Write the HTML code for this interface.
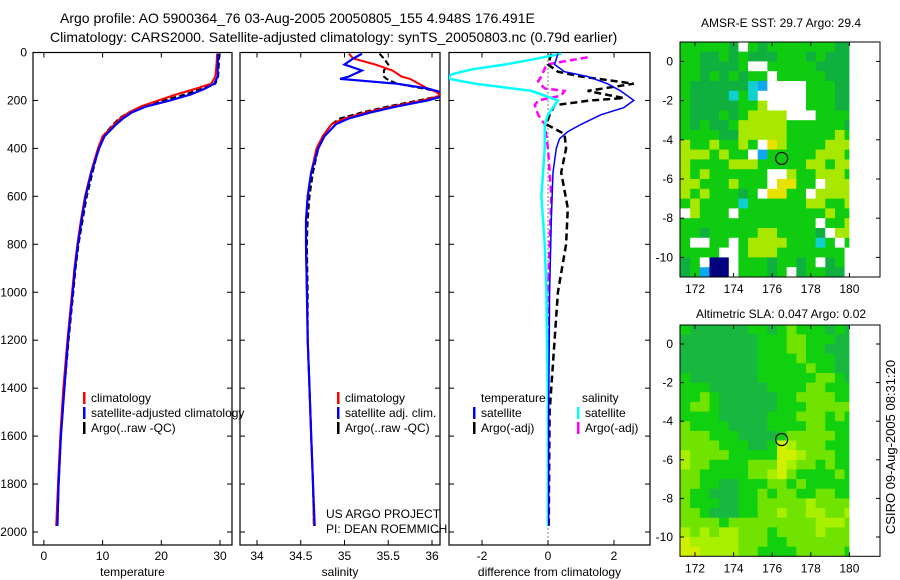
<!DOCTYPE html>
<html><head><meta charset="utf-8"><style>
body{margin:0;background:#fff;}
svg{display:block;font-family:"Liberation Sans",sans-serif;}
</style></head><body>
<svg id="c" width="900" height="580" viewBox="0 0 900 580">
<text x="60" y="23" font-size="14">Argo profile: AO 5900364_76 03-Aug-2005 20050805_155 4.948S 176.491E</text>
<text x="50" y="42" font-size="14">Climatology: CARS2000. Satellite-adjusted climatology: synTS_20050803.nc (0.79d earlier)</text>
<text x="781" y="27" font-size="12" text-anchor="middle">AMSR-E SST: 29.7 Argo: 29.4</text>
<text x="781" y="318" font-size="12" text-anchor="middle">Altimetric SLA: 0.047 Argo: 0.02</text>
<text x="0" y="0" font-size="13" text-anchor="middle" transform="translate(895,447) rotate(-90)">CSIRO 09-Aug-2005 08:31:20</text>
</svg>
<script>
// ---- profile data ----
const tDepth=[5,50,100,130,150,175,200,225,250,275,300,350,400,500,600,700,800,900,1000,1200,1400,1600,1800,1975];
const tClim=[29.5,29.4,29.2,28.5,26,22.5,19.5,16.5,14.5,13,12,10,9.2,8,7,6.3,5.7,5.2,4.8,4,3.3,2.8,2.4,2.1];
const tSat=[29.7,29.6,29.6,29.0,27.5,25,21.5,17.5,15,13.5,12.3,10.3,9.4,8.1,7.1,6.4,5.8,5.3,4.9,4.1,3.5,2.9,2.5,2.3];
const tArgo=[29.9,29.8,29.7,29.2,27,24,20.5,17,14.5,12.8,11.8,10,9.3,8.3,7.3,6.6,5.9,5.4,5.0,4.2,3.5,2.9,2.5,2.3];
const sDepth=[5,25,50,75,100,110,130,150,165,180,200,225,250,275,300,350,400,500,600,700,800,1000,1200,1400,1600,1800,1975];
const sClim=[35.05,35.1,35.35,35.55,35.65,35.75,35.85,35.95,36.05,36.1,35.9,35.55,35.25,35.0,34.85,34.75,34.68,34.62,34.58,34.56,34.56,34.57,34.58,34.6,34.62,34.64,34.65];
const sSat=[35.2,35.1,35.0,35.2,35.05,34.95,35.6,35.95,36.1,36.15,35.95,35.6,35.3,35.05,34.9,34.77,34.7,34.62,34.58,34.56,34.56,34.57,34.58,34.6,34.62,34.64,34.66];
const sArgo=[35.4,35.45,35.5,35.45,35.45,35.48,35.6,35.9,36.1,36.1,35.85,35.5,35.2,34.95,34.85,34.75,34.7,34.64,34.6,34.58,34.57,34.58,34.58,34.6,34.62,34.64,34.65];
const dtSatDepth=[5,50,80,100,130,160,200,230,260,300,330,360,400,500,700,1000,1500,1975];
const dtSat=[0.3,0.2,0.5,1.2,1.8,2.2,2.6,2.3,1.6,1.0,0.6,0.35,0.25,0.15,0.1,0.05,0.02,0.02];
const dtArgoDepth=[5,50,80,100,130,160,190,200,220,260,300,340,400,500,650,800,1000,1500,1975];
const dtArgo=[0.1,0.0,0.3,1.0,2.6,1.2,2.3,1.3,0.2,0.05,-0.05,0.5,0.55,0.4,0.6,0.55,0.3,0.05,0.02];
const dsSatDepth=[5,30,50,70,90,100,110,130,160,200,220,260,300,400,600,800,1000,1500,1975];
const dsSat=[0.4,-0.5,-1.3,-2.3,-2.9,-3.0,-3.0,-2.2,-0.5,0.3,0.2,0.0,-0.1,-0.1,-0.2,-0.1,-0.05,0,0];
const dsArgoDepth=[20,50,100,120,150,160,180,200,220,260,300,350,400,600,800,1000,1975];
const dsArgo=[1.2,-0.05,-0.2,-0.3,-0.1,0.5,0.4,-0.3,-0.4,-0.3,-0.1,-0.05,0,0.1,0.05,0.0,0];
const depthTicks=[0,200,400,600,800,1000,1200,1400,1600,1800,2000];
const tTicks=[0,10,20,30];
const sTicks=[34,34.5,35,35.5,36];
const dTicks=[-2,0,2];
// ---- map data ----
const sstRows=["gggggdwgdgggggggdd","ggddgdgdddgggdgddd","ggddddgwwgggggdddd","ggdgdgdggwgggggddd","gddddddcbwwwwgggdd","gddddcgcwwwwwgggdd","gdddddgglwwwwgggdd","gdddgdgllllwwwgggg","gdgddglllllggggggd","ggggddlllllggggglg","lgglgglgwylgggglll","lllglggwbggggglllg","lgggglllgggggllgllg","lglggggggwwlgglllg","llggglgggwyyggwlll","lglgggdgwyyggwllll","glggggcggggggllggl","wlgggwggggggggglgg","ggggggggggggggwggl","ggdgggggllggggdwll","gwwggwgllllgggcgwg","ggggwwglllgggggggw","dgwnnwgggdggdgwdgw","dgbnnwgggdgwdggddw"];
const slaRows=["gddddddggdgmgggdgd","ddddddddgggmmgggdd","ddddddddgggmmggddd","ddddddddggggmgggdd","ddddddddgggggmggdd","gdddddddggggggmmgd","gggddddddggggmmggg","ggmgddddddggmmmmgg","gmmgddddddgggmmmmm","ggggdddddgggmmmgmg","mggggddddggggmmggg","mmmgggddddgmmmmmgg","mmmmgggddgylmmmggg","lmmmmgggggyylmmmgg","lmmggggmmmylmmgmgg","mmgggggmmlymggggmg","mmggddgggmmgmggggg","mggdddggmgmmggmmgg","mgggddggmmmmmlmmmm","mmgdddggmmlmmllmml","mmmmgmmmmmmmmmlllm","lmlmllmmmgmmmmlmmm","ylllllmmmggmmmmmmm","yyllllmmggggmmmmmg"];
const lonTicks=[172,174,176,178,180];
const latTicks=[0,-2,-4,-6,-8,-10];
const argoLon=176.49, argoLat=-4.95;

const svg=document.getElementById('c');
const NS='http://www.w3.org/2000/svg';
function mk(tag,at,parent){const e=document.createElementNS(NS,tag);for(const k in at)e.setAttribute(k,at[k]);(parent||svg).appendChild(e);return e;}
const y0=52.5, yk=(532-52.5)/2000;
const yD=d=>y0+d*yk;
const panels=[
 {x0:33,x1:232,v0:0,px0:43.9,k:5.87,ticks:tTicks,label:'temperature',name:'temperature'},
 {x0:240,x1:440,v0:34,px0:257,k:87.5,ticks:sTicks,label:'salinity',name:'salinity'},
 {x0:449,x1:650,v0:0,px0:548,k:33,ticks:dTicks,label:'difference from climatology',name:'difference'}];
panels.forEach((p,i)=>{p.x=v=>p.px0+(v-p.v0)*p.k;});
function line(p,depths,vals,color,dash,w,name){
  const pts=depths.map((d,i)=>p.x(vals[i]).toFixed(1)+','+yD(d).toFixed(1)).join(' ');
  const e=mk('polyline',{points:pts,fill:'none',stroke:color,'stroke-width':w,'stroke-dasharray':dash||'none','clip-path':'url(#cp'+panels.indexOf(p)+')'});
  
  
}
const defs=mk('defs',{});
panels.forEach((p,i)=>{
  const cp=mk('clipPath',{id:'cp'+i},defs);mk('rect',{x:p.x0,y:y0-1,width:p.x1-p.x0,height:545-y0+1},cp);
  const f=mk('rect',{x:p.x0,y:y0,width:p.x1-p.x0,height:545-y0,fill:'#fff',stroke:'#000','stroke-width':1.2});
  
  
  depthTicks.forEach(d=>{
    mk('line',{x1:p.x0,x2:p.x0+5,y1:yD(d),y2:yD(d),stroke:'#000'});
    mk('line',{x1:p.x1,x2:p.x1-5,y1:yD(d),y2:yD(d),stroke:'#000'});
    if(i==0){const t=mk('text',{x:27,y:yD(d)+4,'font-size':12,'text-anchor':'end'});t.textContent=d;
      
      }
  });
  p.ticks.forEach(v=>{
    const X=p.x(v);
    mk('line',{x1:X,x2:X,y1:545,y2:540,stroke:'#000'});
    mk('line',{x1:X,x2:X,y1:y0,y2:y0+5,stroke:'#000'});
    const t=mk('text',{x:X,y:560,'font-size':12,'text-anchor':'middle'});t.textContent=v;
    
    
  });
  const lb=mk('text',{x:(p.x0+p.x1)/2,y:576,'font-size':12,'text-anchor':'middle'});lb.textContent=p.label;
  
  
});
const P=panels;
line(P[0],tDepth,tArgo,'#000','6,3',2,'temp-argo-line');
line(P[0],tDepth,tClim,'#f00','',2,'temp-climatology-line');
line(P[0],tDepth,tSat,'#00f','',2.2,'temp-satellite-line');
line(P[1],sDepth,sArgo,'#000','6,3',2,'sal-argo-line');
line(P[1],sDepth,sClim,'#f00','',2,'sal-climatology-line');
line(P[1],sDepth,sSat,'#00f','',2.2,'sal-satellite-line');
mk('line',{x1:P[2].x(0),x2:P[2].x(0),y1:y0,y2:545,stroke:'#000','stroke-dasharray':'1,3'});
line(P[2],dsArgoDepth,dsArgo,'#f0f','7,4',2.5,'dsal-argo-line');
line(P[2],dtArgoDepth,dtArgo,'#000','7,4',2.5,'dtemp-argo-line');
line(P[2],dsSatDepth,dsSat,'#0ff','',2.5,'dsal-satellite-line');
line(P[2],dtSatDepth,dtSat,'#00f','',1.5,'dtemp-satellite-line');
// legends
function leg(x,y,color,text,name){
  mk('rect',{x:x,y:y-10,width:2.5,height:12,fill:color});
  const t=mk('text',{x:x+8,y:y,'font-size':12});t.textContent=text;
  
  
}
leg(83,402,'#f00','climatology','legend-temp-climatology');
leg(83,417,'#00f','satellite-adjusted climatology','legend-temp-satellite');
leg(83,432,'#000','Argo(..raw -QC)','legend-temp-argo');
leg(337,402,'#f00','climatology','legend-sal-climatology');
leg(337,417,'#00f','satellite adj. clim.','legend-sal-satellite');
leg(337,432,'#000','Argo(..raw -QC)','legend-sal-argo');
{const t=mk('text',{x:481,y:402,'font-size':12});t.textContent='temperature';}
{const t=mk('text',{x:582,y:402,'font-size':12});t.textContent='salinity';}
leg(473,417,'#00f','satellite','legend-dtemp-satellite');
leg(473,432,'#000','Argo(-adj)','legend-dtemp-argo');
leg(577,417,'#0ff','satellite','legend-dsal-satellite');
leg(577,432,'#f0f','Argo(-adj)','legend-dsal-argo');
{const t=mk('text',{x:326,y:518,'font-size':12});t.textContent='US ARGO PROJECT';}
{const t=mk('text',{x:326,y:533,'font-size':12});t.textContent='PI: DEAN ROEMMICH';}
// maps
const sstCol={g:'#10cc10',d:'#10b040',l:'#a8e800',y:'#e8e000',w:'#ffffff',b:'#10a8f0',c:'#10d0d0',n:'#000080'};
const slaCol={g:'#10d010',d:'#18b840',m:'#70e400',l:'#a8f000',y:'#d0f000'};
function map(rows,cols,top,lat0y,latk,name){
  const lx=lon=>695+(lon-172)*19.3, ly=lat=>lat0y-lat*latk;
  const cp=mk('clipPath',{id:'cp'+name},defs);mk('rect',{x:680,y:ly(1),width:lx(180)-680,height:ly(-11)-ly(1)},cp);
  const g=mk('g',{'clip-path':'url(#cp'+name+')'});
  rows.forEach((r,ri)=>{for(let ci=0;ci<r.length;ci++){
    const lon=171.25+ci*0.5, lat=1-ri*0.5;
    const c=mk('rect',{x:lx(lon),y:ly(lat),width:19.3*0.5+0.6,height:latk*0.5+0.6,fill:cols[r[ci]]||'#10cc10'},g);
    
    
  }});
  const f=mk('rect',{x:680,y:top,width:200,height:ly(-11)-top,fill:'none',stroke:'#000','stroke-width':1});
  
  
  const bot=ly(-11);
  lonTicks.forEach(v=>{const X=lx(v);mk('line',{x1:X,x2:X,y1:bot,y2:bot-4,stroke:'#000'});mk('line',{x1:X,x2:X,y1:top,y2:top+4,stroke:'#000'});
    const t=mk('text',{x:X,y:bot+16,'font-size':12,'text-anchor':'middle'});t.textContent=v;
    
    });
  latTicks.forEach(v=>{const Y=ly(v);mk('line',{x1:680,x2:684,y1:Y,y2:Y,stroke:'#000'});mk('line',{x1:880,x2:876,y1:Y,y2:Y,stroke:'#000'});
    const t=mk('text',{x:673,y:Y+4,'font-size':12,'text-anchor':'end'});t.textContent=v;
    
    });
  const m=mk('circle',{cx:lx(argoLon),cy:ly(argoLat),r:6,fill:'none',stroke:'#000','stroke-width':1.2});
  
  
}
map(sstRows,sstCol,42,61.4,19.6,'sst-map');
map(slaRows,slaCol,325,344,19.3,'sla-map');
</script>
</body></html>
